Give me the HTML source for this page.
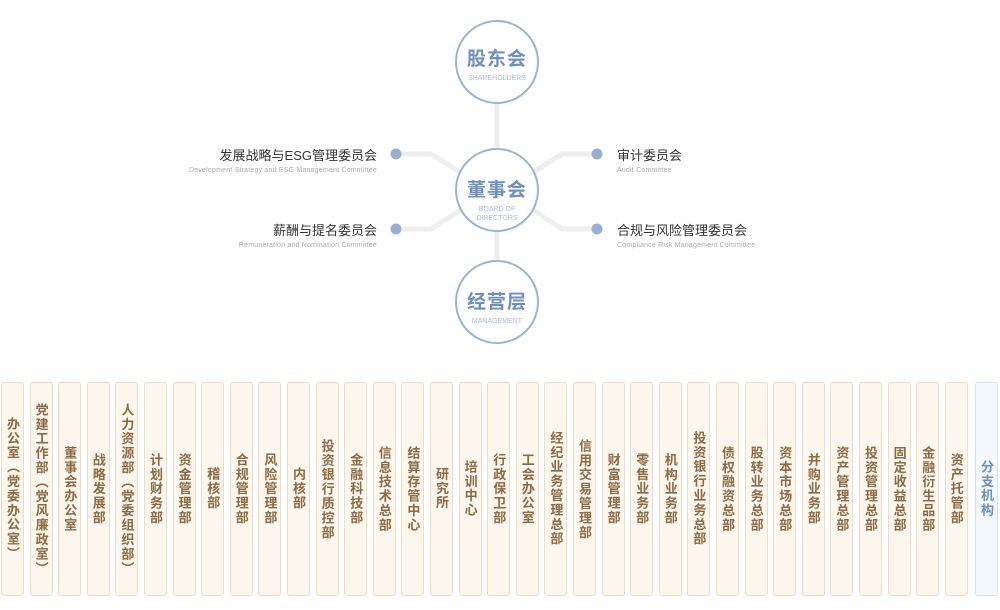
<!DOCTYPE html>
<html><head><meta charset="utf-8"><style>
body{margin:0;width:1000px;height:610px;background:#fff;position:relative;overflow:hidden;font-family:"Liberation Sans","Noto Sans CJK SC",sans-serif}
.c{position:absolute;width:84px;height:84px;border:2px solid #9db3d4;border-radius:50%;background:#fff;text-align:center;box-sizing:border-box}
.c b{display:block;color:#6e8fbf;font-size:19px;font-weight:bold;letter-spacing:1px}
.c i{display:block;font-style:normal;color:#a9bbd8;font-size:7px;line-height:9px;margin-top:3px}
.l{position:absolute;font-size:13px;color:#333;white-space:nowrap}
.l small{display:block;font-size:7px;color:#aaa;margin-top:3px;letter-spacing:0.2px}
.r{text-align:right}
.box{position:absolute;top:382px;width:23px;height:214px;border:1px solid #ecdcc9;border-radius:3px;background:#fdf6ec;box-sizing:border-box;display:flex;align-items:center;justify-content:center}
.box span{writing-mode:vertical-rl;color:#8b6a45;font-weight:bold;font-size:13px;line-height:15px;letter-spacing:1.4px}
.box.b{background:#f3f8fd;border-color:#d6e3f1}
.box.b span{color:#6e8fbf}
</style></head><body>
<svg width="1000" height="360" style="position:absolute;left:0;top:0">
<g stroke="#eeeeee" stroke-width="5" fill="none">
<line x1="497" y1="100" x2="497" y2="270"/>
<polyline points="396,154 431,154 470,178"/>
<polyline points="396,229 431,229 470,204"/>
<polyline points="597,154 562,154 524,178"/>
<polyline points="597,229 562,229 524,204"/>
</g>
<g fill="#99afd0">
<circle cx="396" cy="154" r="5.5"/><circle cx="396" cy="229" r="5.5"/>
<circle cx="597" cy="154" r="5.5"/><circle cx="597" cy="229" r="5.5"/>
</g>
</svg>
<div class="c" style="left:455px;top:20px;padding-top:22px"><b>股东会</b><i>SHAREHOLDERS</i></div>
<div class="c" style="left:455px;top:148px;padding-top:25px"><b>董事会</b><i>BOARD OF<br>DIRECTORS</i></div>
<div class="c" style="left:455px;top:260px;padding-top:25px"><b>经营层</b><i>MANAGEMENT</i></div>
<div class="l r" style="right:623px;top:145px">发展战略与ESG管理委员会<small>Development Strategy and ESG Management Committee</small></div>
<div class="l r" style="right:623px;top:220px">薪酬与提名委员会<small>Remuneration and Nomination Committee</small></div>
<div class="l" style="left:617px;top:145px">审计委员会<small>Audit Committee</small></div>
<div class="l" style="left:617px;top:220px">合规与风险管理委员会<small>Compliance Risk Management Committee</small></div>
<div class="box" style="left:1px"><span>办公室（党委办公室）</span></div>
<div class="box" style="left:29.6px"><span>党建工作部（党风廉政室）</span></div>
<div class="box" style="left:58.2px"><span>董事会办公室</span></div>
<div class="box" style="left:86.8px"><span>战略发展部</span></div>
<div class="box" style="left:115.4px"><span>人力资源部（党委组织部）</span></div>
<div class="box" style="left:144px"><span>计划财务部</span></div>
<div class="box" style="left:172.6px"><span>资金管理部</span></div>
<div class="box" style="left:201.2px"><span>稽核部</span></div>
<div class="box" style="left:229.8px"><span>合规管理部</span></div>
<div class="box" style="left:258.4px"><span>风险管理部</span></div>
<div class="box" style="left:287px"><span>内核部</span></div>
<div class="box" style="left:315.6px"><span>投资银行质控部</span></div>
<div class="box" style="left:344.2px"><span>金融科技部</span></div>
<div class="box" style="left:372.8px"><span>信息技术总部</span></div>
<div class="box" style="left:401.4px"><span>结算存管中心</span></div>
<div class="box" style="left:430px"><span>研究所</span></div>
<div class="box" style="left:458.6px"><span>培训中心</span></div>
<div class="box" style="left:487.2px"><span>行政保卫部</span></div>
<div class="box" style="left:515.8px"><span>工会办公室</span></div>
<div class="box" style="left:544.4px"><span>经纪业务管理总部</span></div>
<div class="box" style="left:573px"><span>信用交易管理部</span></div>
<div class="box" style="left:601.6px"><span>财富管理部</span></div>
<div class="box" style="left:630.2px"><span>零售业务部</span></div>
<div class="box" style="left:658.8px"><span>机构业务部</span></div>
<div class="box" style="left:687.4px"><span>投资银行业务总部</span></div>
<div class="box" style="left:716px"><span>债权融资总部</span></div>
<div class="box" style="left:744.6px"><span>股转业务总部</span></div>
<div class="box" style="left:773.2px"><span>资本市场总部</span></div>
<div class="box" style="left:801.8px"><span>并购业务部</span></div>
<div class="box" style="left:830.4px"><span>资产管理总部</span></div>
<div class="box" style="left:859px"><span>投资管理总部</span></div>
<div class="box" style="left:887.6px"><span>固定收益总部</span></div>
<div class="box" style="left:916.2px"><span>金融衍生品部</span></div>
<div class="box" style="left:944.8px"><span>资产托管部</span></div>
<div class="box b" style="left:975px"><span>分支机构</span></div>
</body></html>
